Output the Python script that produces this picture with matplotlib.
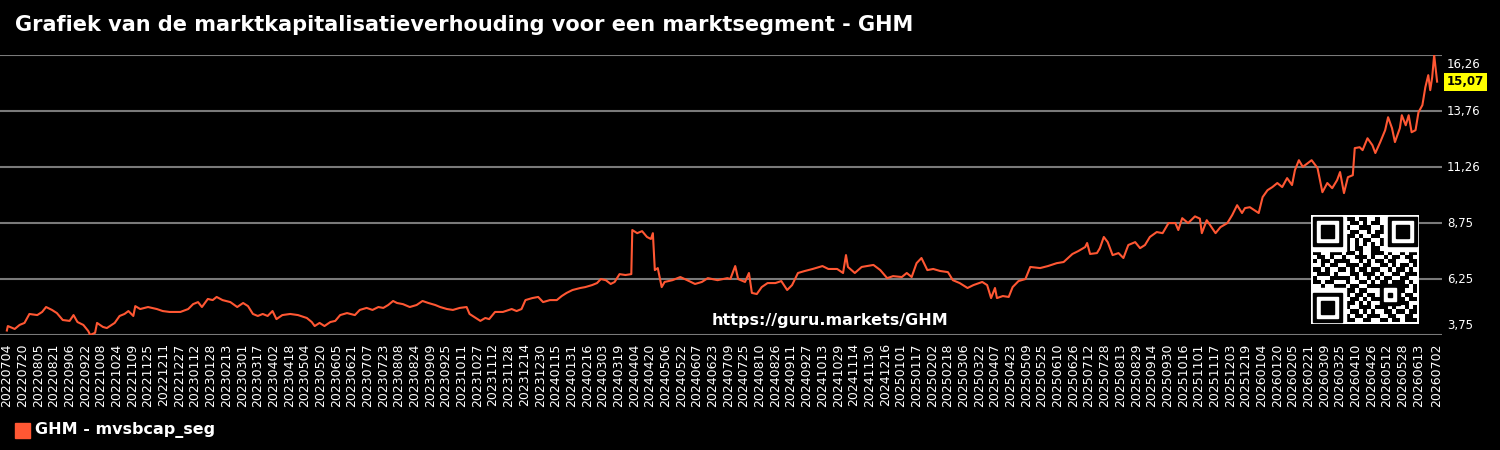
import matplotlib
matplotlib.use('Agg')
import matplotlib.pyplot as plt
import numpy as np
import pandas as pd

start = pd.Timestamp('2022-07-04')
end = pd.Timestamp('2026-07-02')

# days since 2022-07-04 and ratio values
days = [0, 1, 8, 13, 18, 23, 31, 36, 40, 46, 51, 57, 64, 68, 72, 78, 83, 85, 90, 92, 98, 102,
        110, 115, 120, 124, 129, 131, 136, 144, 153, 159, 166, 177, 185, 190, 195, 199, 205,
        210, 214, 220, 228, 235, 241, 246, 251, 256, 261, 266, 271, 275, 281, 289, 297, 306,
        311, 314, 319, 324, 330, 335, 340, 347, 355, 360, 367, 373, 379, 384, 389, 394, 398,
        404, 411, 418, 424, 430, 437, 442, 449, 455, 462, 469, 472, 477, 483, 488, 492, 498,
        506, 515, 520, 525, 529, 536, 542, 547, 554, 561, 566, 571, 577, 585, 590, 597, 602,
        606, 611, 616, 620, 625, 631, 637, 638, 643, 648, 653, 657, 659, 661, 664, 668, 671,
        679, 687, 694, 702, 709, 715, 725, 735, 738, 743, 746, 753, 757, 760, 765, 770, 776,
        784, 790, 796, 801, 807, 814, 822, 832, 838, 847, 853, 856, 858, 865, 872, 884, 891,
        898, 904, 913, 918, 923, 928, 933, 939, 945, 952, 960, 965, 972, 980, 986, 995, 1000,
        1004, 1008, 1010, 1016, 1022, 1026, 1032, 1039, 1044, 1054, 1062, 1071, 1078, 1087,
        1093, 1100, 1102, 1105, 1112, 1115, 1119, 1123, 1128, 1134, 1139, 1144, 1151, 1156,
        1161, 1166, 1173, 1179, 1185, 1192, 1195, 1199, 1205, 1212, 1217, 1219, 1224, 1233,
        1238, 1245, 1250, 1255, 1260, 1263, 1268, 1277, 1281, 1286, 1291, 1296, 1301, 1306,
        1311, 1314, 1318, 1322, 1331, 1337, 1342, 1347, 1352, 1357, 1360, 1364, 1368, 1373,
        1375, 1380, 1383, 1388, 1393, 1396, 1401, 1406, 1409, 1413, 1416, 1421, 1423, 1427,
        1430, 1433, 1437, 1440, 1444, 1447, 1450, 1452, 1454, 1456, 1459]
values = [3.95, 4.15, 4.02, 4.2, 4.29, 4.69, 4.64, 4.78, 5.0, 4.87, 4.73, 4.42, 4.38, 4.64, 4.33,
          4.2, 3.93, 3.75, 3.85, 4.29, 4.11, 4.06, 4.29, 4.6, 4.69, 4.82, 4.6, 5.04, 4.91, 5.0,
          4.91, 4.82, 4.78, 4.78, 4.91, 5.13, 5.22, 5.0, 5.36, 5.31, 5.45, 5.31, 5.22, 5.0, 5.18,
          5.04, 4.69, 4.6, 4.69, 4.6, 4.82, 4.46, 4.64, 4.69, 4.64, 4.51, 4.33, 4.15, 4.29, 4.15,
          4.33, 4.38, 4.64, 4.73, 4.64, 4.87, 4.96, 4.87, 5.0, 4.96, 5.09, 5.27, 5.18, 5.13, 5.0,
          5.09, 5.27, 5.18, 5.09, 5.0, 4.91, 4.87, 4.96, 5.0, 4.69, 4.55, 4.38, 4.51, 4.46, 4.78,
          4.78, 4.91, 4.82, 4.91, 5.31, 5.4, 5.45, 5.22, 5.31, 5.31, 5.49, 5.63, 5.76, 5.85, 5.89,
          5.98, 6.07, 6.25, 6.2, 6.03, 6.12, 6.47, 6.43, 6.47, 8.44, 8.3, 8.39, 8.13, 8.04, 8.3,
          6.65, 6.74, 5.89, 6.12, 6.2, 6.34, 6.2, 6.03, 6.12, 6.29, 6.2, 6.29, 6.25, 6.83, 6.25,
          6.12, 6.52, 5.63, 5.58, 5.89, 6.07, 6.07, 6.16, 5.76, 5.98, 6.52, 6.61, 6.7, 6.83, 6.7,
          6.7, 6.52, 7.32, 6.79, 6.52, 6.79, 6.88, 6.65, 6.29, 6.38, 6.34, 6.52, 6.34, 6.96, 7.19,
          6.65, 6.7, 6.61, 6.56, 6.2, 6.07, 5.85, 5.98, 6.12, 5.98, 5.4, 5.85, 5.4, 5.49, 5.45,
          5.89, 6.16, 6.25, 6.79, 6.74, 6.83, 6.96, 7.01, 7.37, 7.5, 7.68, 7.86, 7.37, 7.41, 7.63,
          8.13, 7.9, 7.32, 7.41, 7.19, 7.77, 7.9, 7.63, 7.77, 8.13, 8.35, 8.3, 8.75, 8.75, 8.44,
          8.97, 8.75, 9.05, 8.95, 8.3, 8.88, 8.3, 8.57, 8.75, 9.11, 9.55, 9.2, 9.42, 9.46, 9.2,
          9.91, 10.22, 10.36, 10.54, 10.36, 10.76, 10.45, 11.12, 11.56, 11.26, 11.56, 11.21, 10.13,
          10.54, 10.31, 10.67, 11.03, 10.09, 10.8, 10.89, 12.1, 12.14, 12.01, 12.54, 12.23, 11.88,
          12.37, 12.9, 13.48, 12.99, 12.37, 12.99, 13.57, 13.12, 13.57, 12.81, 12.9, 13.7, 14.02,
          14.82, 15.36, 14.69, 15.27, 16.26, 15.07]

title = 'Grafiek van de marktkapitalisatieverhouding voor een marktsegment - GHM'
series_name = 'GHM - mvsbcap_seg'
watermark = 'https://guru.markets/GHM'
line_color = '#ff5733'

# rough QR module grid (finders and alignment are drawn on top)
qr_rows = [
    "1111111011011001001111111",
    "1000001001101011001000001",
    "1011101010011100101011101",
    "1011101001100101101011101",
    "1011101011010011001011101",
    "1000001010101100101000001",
    "1111111010101010101111111",
    "0000000010110011000000000",
    "1100111011010011101001011",
    "0110100100111010010110110",
    "1011011110010101101100011",
    "0010110011101100110101101",
    "1101001101011011001011010",
    "0111010001101110100110111",
    "1000111110100101011001100",
    "1101100010011010110111010",
    "0010011101100111001111101",
    "0000000011011000101101001",
    "1111111010110110011110110",
    "1000001001101011100001011",
    "1011101011010100101011100",
    "1011101110011101110100101",
    "1011101001101010011011011",
    "1000001010110111001100110",
    "1111111011001100110110111",
]

dates = start + pd.to_timedelta(days, unit='D')

fig = plt.figure(figsize=(15, 4.5), dpi=100, facecolor='black')
ax = fig.add_axes([0.0, 1 - 335 / 450, 1442 / 1500, 280 / 450])
ax.set_facecolor('black')

ax.plot(dates, values, color=line_color, lw=1.5, zorder=3)

vmin, vmax = min(values), max(values)
yticks = np.linspace(vmin, vmax, 6)
ax.set_ylim(vmin, vmax)
ax.set_yticks(yticks)
ax.set_yticklabels([])
ax.tick_params(axis='y', length=0)
ax.grid(axis='y', color='#7a7a7a', lw=1.5)
for i, t in enumerate(yticks):
    dy = -6.5 if i == len(yticks) - 1 else (6.5 if i == 0 else 0)
    ax.annotate(f'{t:.2f}'.replace('.', ','), xy=(1.0, t), xycoords=('axes fraction', 'data'),
                xytext=(3.6, dy), textcoords='offset points', va='center', ha='left',
                fontsize=8.5, color='white', annotation_clip=False)

ticks = list(pd.date_range(start, end, freq='16D'))
if (end - ticks[-1]).days > 8:
    ticks.append(end)
else:
    ticks[-1] = end
ax.set_xticks(ticks)
ax.set_xticklabels([t.strftime('%Y%m%d') for t in ticks], rotation=90, color='white', fontsize=9)
ax.tick_params(axis='x', length=0, pad=6)
ax.set_xlim(start - pd.Timedelta(days=7), end + pd.Timedelta(days=5))

for s in ax.spines.values():
    s.set_visible(False)

# last value label
last = values[-1]
ax.annotate(f'{last:.2f}'.replace('.', ','), xy=(1.0, last), xycoords=('axes fraction', 'data'),
            xytext=(3.6, 0), textcoords='offset points', va='center', ha='left',
            fontsize=8.5, fontweight='bold', color='black', annotation_clip=False,
            bbox=dict(boxstyle='square,pad=0.22', fc='#ffff00', ec='none'))

fig.text(15 / 1500, 1 - 25 / 450, title, color='white', fontsize=15, fontweight='bold', va='center')
fig.text(830 / 1500, 1 - 320 / 450, watermark, color='white', fontsize=11.5, fontweight='bold',
         ha='center', va='center')

# legend
fig.patches.append(plt.Rectangle((15 / 1500, 1 - 438 / 450), 15 / 1500, 15 / 450,
                                 transform=fig.transFigure, color=line_color))
fig.text(35 / 1500, 1 - 430 / 450, series_name, color='white', fontsize=11.5, fontweight='bold', va='center')

# QR code block
qr = np.array([[int(c) for c in r] for r in qr_rows])
qax = fig.add_axes([1311 / 1500, 1 - 324 / 450, 108 / 1500, 109 / 450])
qax.set_facecolor('white')
qax.imshow(qr, cmap='gray_r', vmin=0, vmax=1, extent=(0, 25, 25, 0), interpolation='nearest',
           aspect='auto')
for (cx, cy) in [(0, 0), (18, 0), (0, 18)]:
    qax.add_patch(plt.Rectangle((cx - (1 if cx else 0), cy - (1 if cy else 0)), 8, 8, color='white'))
    qax.add_patch(plt.Rectangle((cx, cy), 7, 7, color='black'))
    qax.add_patch(plt.Rectangle((cx + 1, cy + 1), 5, 5, color='white'))
    qax.add_patch(plt.Rectangle((cx + 2, cy + 2), 3, 3, color='black'))
qax.add_patch(plt.Rectangle((16, 16), 5, 5, color='black'))
qax.add_patch(plt.Rectangle((17, 17), 3, 3, color='white'))
qax.add_patch(plt.Rectangle((18, 18), 1, 1, color='black'))
qax.set_xlim(-0.5, 25.5)
qax.set_ylim(25.5, -0.5)
for s in qax.spines.values():
    s.set_visible(False)
qax.set_xticks([])
qax.set_yticks([])

fig.savefig('out.png', dpi=100, facecolor='black')
